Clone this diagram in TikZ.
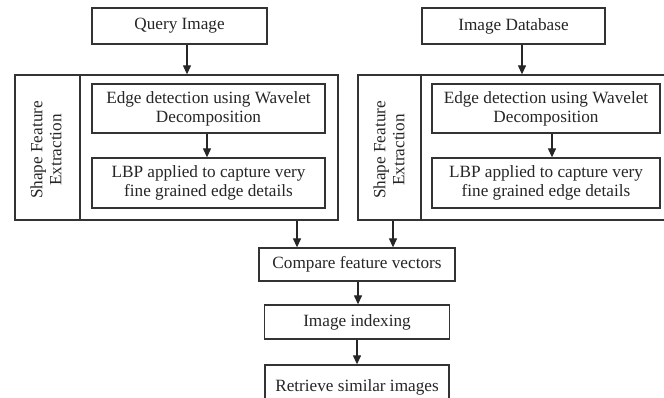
\documentclass[tikz,border=0pt]{standalone}
\usepackage{fontspec}
\setmainfont{Liberation Serif}
\usetikzlibrary{arrows.meta}
\begin{document}
\begin{tikzpicture}[x=1pt,y=-1pt,
  box/.style={draw=black!80,line width=1.3pt,fill=white,inner sep=0pt,align=center,font=\fontsize{17.2}{19}\selectfont,text=black!85},
  lbl/.style={inner sep=0pt,align=center,font=\fontsize{17.2}{19}\selectfont,text=black!85},
  arr/.style={draw=black!85,line width=1.2pt,-{Triangle[width=8pt,length=9pt]}}]
\useasboundingbox (0,0) rectangle (664,398);
\fill[white] (0,0) rectangle (664,398);
\clip (0,0) rectangle (664,398);
% top inputs
\node[box,minimum width=175pt,minimum height=36pt] (q) at (179.5,26) {Query Image};
\node[box,minimum width=183pt,minimum height=36pt] (db) at (513.5,26) {Image Database};
% left group
\node[box,minimum width=323pt,minimum height=145pt] (Lout) at (176.5,147.5) {};
\coordinate (Ldivt) at (80,75);
\coordinate (Ldivb) at (80,220);
\draw[draw=black!80,line width=1.3pt] (Ldivt) -- (Ldivb);
\node[lbl,rotate=90] (Llbl) at (46,150) {Shape Feature\\Extraction};
\node[box,minimum width=233pt,minimum height=49pt] (Le) at (208.5,108.5) {Edge detection using Wavelet\\Decomposition};
\node[box,minimum width=233pt,minimum height=50pt] (Ll) at (208.5,183) {LBP applied to capture very\\fine grained edge details};
% right group
\node[box,minimum width=310pt,minimum height=145pt] (Rout) at (513,147.5) {};
\coordinate (Rdivt) at (421,75);
\coordinate (Rdivb) at (421,220);
\draw[draw=black!80,line width=1.3pt] (Rdivt) -- (Rdivb);
\node[lbl,rotate=90] (Rlbl) at (389,150) {Shape Feature\\Extraction};
\node[box,minimum width=228pt,minimum height=49pt] (Re) at (546,108.5) {Edge detection using Wavelet\\Decomposition};
\node[box,minimum width=228pt,minimum height=50pt] (Rl) at (546,183) {LBP applied to capture very\\fine grained edge details};
% bottom chain
\node[box,minimum width=196pt,minimum height=33pt] (cmp) at (357,264.5) {Compare feature vectors};
\node[box,minimum width=185pt,minimum height=34pt] (idx) at (357,322) {Image indexing};
\node[box,minimum width=184pt,minimum height=46pt] (ret) at (357,388) {\raisebox{5pt}{Retrieve similar images}};
% arrows
\draw[arr] ([xshift=7.5pt]q.south) -- ([xshift=10.5pt]Lout.north);
\draw[arr] ([xshift=8.5pt]db.south) -- ([xshift=9pt]Rout.north);
\draw[arr] ([xshift=-1.5pt]Le.south) -- ([xshift=-1.5pt]Ll.north);
\draw[arr] ([xshift=6pt]Re.south) -- ([xshift=6pt]Rl.north);
\draw[arr] ([xshift=120.5pt]Lout.south) -- ([xshift=-60pt]cmp.north);
\draw[arr] ([xshift=-120pt]Rout.south) -- ([xshift=36pt]cmp.north);
\draw[arr] ([xshift=1pt]cmp.south) -- ([xshift=1pt]idx.north);
\draw[arr] (idx.south) -- (ret.north);
\end{tikzpicture}
\end{document}
